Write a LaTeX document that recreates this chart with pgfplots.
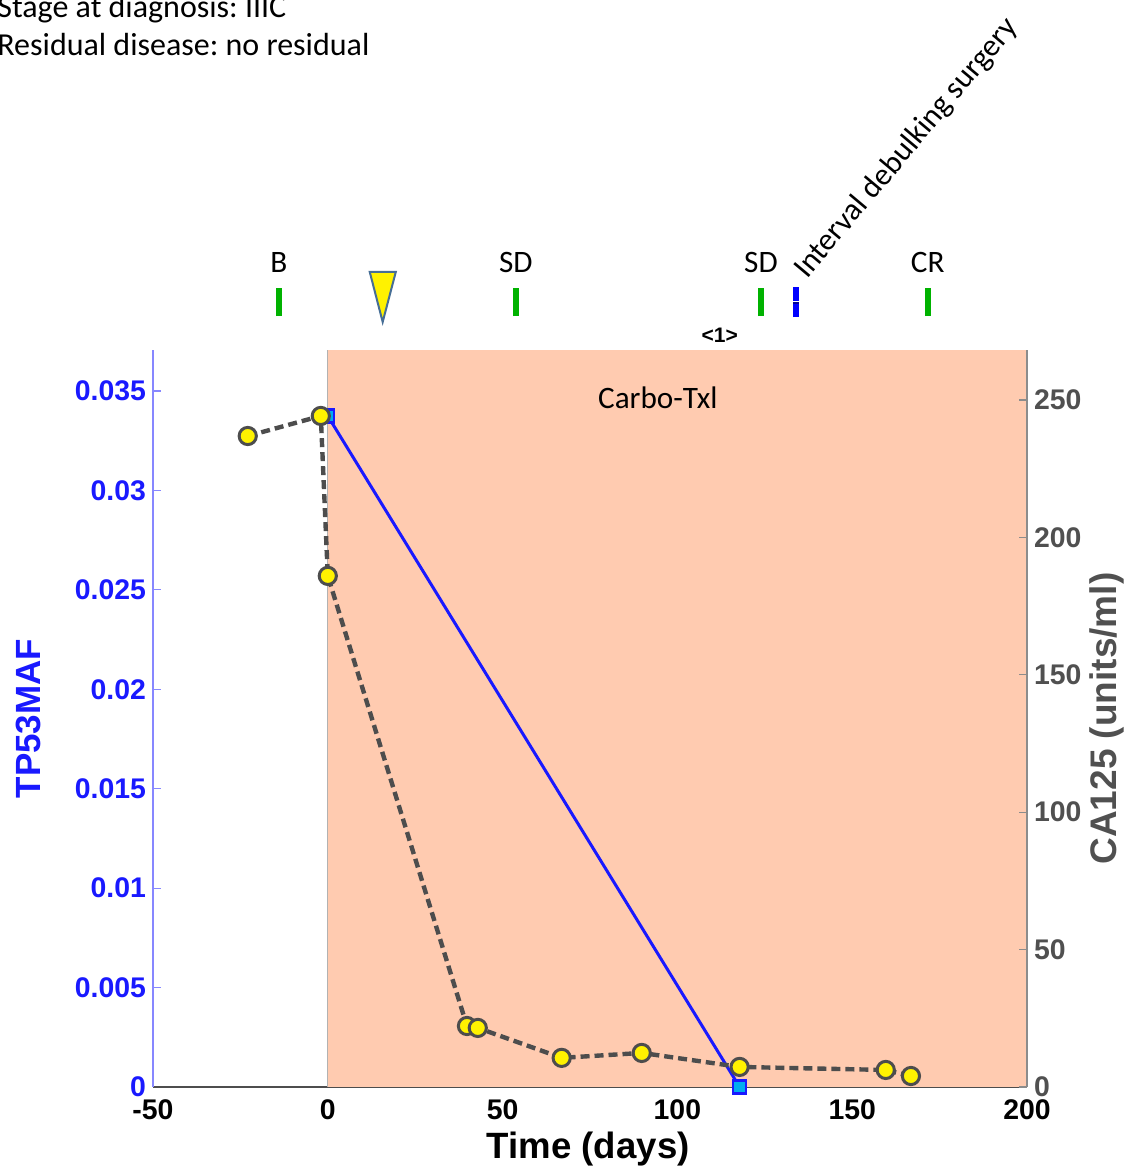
\documentclass[border=0pt]{standalone}
\usepackage{pgfplots}
\pgfplotsset{compat=1.18}
\usepackage{fontspec}
\setmainfont{Liberation Sans}
\newfontfamily\calib{Carlito}
\definecolor{peach}{RGB}{255,203,176}
\definecolor{tpblue}{RGB}{25,25,255}
\definecolor{axblue}{RGB}{135,135,255}
\definecolor{cagray}{RGB}{77,77,77}
\definecolor{rgray}{RGB}{80,80,80}
\definecolor{barGreen}{RGB}{0,178,0}
\definecolor{triEdge}{RGB}{70,110,150}
\frenchspacing
\begin{document}
\begin{tikzpicture}
\useasboundingbox (-76.5pt,-41pt) rectangle (491pt,543.5pt);
% header text
\node[anchor=base west, inner sep=0, font=\calib\fontsize{16}{16}\selectfont] at (-78pt,534.5pt) {Stage at diagnosis: IIIC};
\node[anchor=base west, inner sep=0, font=\calib\fontsize{16}{16}\selectfont] at (-78pt,515.5pt) {Residual disease: no residual};
% left axis: TP53MAF
\begin{axis}[at={(0pt,0pt)}, anchor=south west, width=437pt, height=368.5pt, scale only axis,
  xmin=-50, xmax=200, ymin=0, ymax=0.03706,
  axis x line*=bottom, axis y line*=left,
  x axis line style={draw=cagray, line width=0.6pt},
  y axis line style={draw=axblue, line width=0.8pt},
  xtick={-50,0,50,100,150,200},
  xticklabels={-50,0,50,100,150,200},
  ytick={0,0.005,0.01,0.015,0.02,0.025,0.03,0.035},
  yticklabels={0,0.005,0.01,0.015,0.02,0.025,0.03,0.035},
  scaled y ticks=false,
  tick align=inside, major tick length=4pt,
  x tick style={draw=none},
  y tick style={draw=axblue, line width=0.6pt},
  xticklabel style={font=\bfseries\fontsize{14.2}{14.2}\selectfont, text=black, yshift=-3pt},
  yticklabel style={font=\bfseries\fontsize{14.2}{14.2}\selectfont, text=tpblue},
  /pgf/number format/assume math mode=true,
  xlabel={Time (days)},
  xlabel style={font=\bfseries\fontsize{18.3}{18.3}\selectfont, at={(axis description cs:0.498,-0.084)}, anchor=center},
  ylabel={TP53MAF},
  ylabel style={font=\bfseries\fontsize{17.5}{17.5}\selectfont, text=tpblue, at={(axis description cs:-0.143,0.5)}, anchor=center, rotate=0},
  clip=false]
\addplot[fill=peach, draw=none] coordinates {(0,0.03706) (200,0.03706)} \closedcycle;
\addplot[draw=black!30, line width=0.5pt] coordinates {(0,0) (0,0.03706)};
\addplot[draw=black!30, line width=0.5pt] coordinates {(200,0) (200,0.03706)};
\addplot[tpblue, line width=1.5pt, mark=square*, mark size=3.2pt,
  mark options={fill=cyan, draw=tpblue, line width=1.2pt}]
  coordinates {(0,0.03374) (117.8,0)};
\end{axis}
% right axis: CA125
\begin{axis}[at={(0pt,0pt)}, anchor=south west, width=437pt, height=368.5pt, scale only axis,
  xmin=-50, xmax=200, ymin=0, ymax=268.2,
  axis x line=none, axis y line*=right,
  y axis line style={draw=black!45, line width=0.6pt},
  ytick={0,50,100,150,200,250},
  tick align=inside, major tick length=4pt,
  y tick style={draw=black!45, line width=0.6pt},
  yticklabel style={font=\bfseries\fontsize{14.2}{14.2}\selectfont, text=rgray},
  /pgf/number format/assume math mode=true,
  ylabel={CA125 (units/ml)},
  ylabel style={font=\bfseries\fontsize{18.5}{18.5}\selectfont, text=rgray, at={(axis description cs:1.091,0.5)}, anchor=center},
  clip=false]
\addplot[cagray, line width=2.2pt, dash pattern=on 4.5pt off 2.5pt,
  mark=*, mark size=4.3pt, mark options={solid, fill=yellow, draw=cagray, line width=1.5pt}]
  coordinates {(-22.9,236.9) (-2,244.2) (0,186.0) (39.8,22.2) (42.9,21.5)
               (66.9,10.6) (89.8,12.4) (117.8,7.3) (159.6,6.2) (166.8,4.0)};
% event bars
\addplot[barGreen, line width=3pt] coordinates {(-14,280.5) (-14,290.8)};
\addplot[barGreen, line width=3pt] coordinates {(53.8,280.5) (53.8,290.8)};
\addplot[barGreen, line width=3pt] coordinates {(123.9,280.5) (123.9,290.8)};
\addplot[barGreen, line width=3pt] coordinates {(171.6,280.5) (171.6,290.8)};
\addplot[blue, line width=3pt] coordinates {(133.9,286.1) (133.9,291.1)};
\addplot[blue!60!black, line width=3pt] coordinates {(133.9,284.9) (133.9,285.5)};
\addplot[blue, line width=3pt] coordinates {(133.9,280.2) (133.9,284.9)};
\addplot[fill=yellow, draw=triEdge, line width=1pt] coordinates {(12.0,296.6) (19.45,296.6) (15.7,278.4)} -- cycle;
% annotation labels
\node[font=\calib\fontsize{15.6}{15.6}\selectfont] at (axis cs:-14,300.2) {B};
\node[font=\calib\fontsize{15.6}{15.6}\selectfont] at (axis cs:53.8,300.2) {SD};
\node[font=\calib\fontsize{15.6}{15.6}\selectfont] at (axis cs:123.9,300.2) {SD};
\node[font=\calib\fontsize{15.6}{15.6}\selectfont] at (axis cs:171.6,300.2) {CR};
\node[font=\calib\fontsize{15.6}{15.6}\selectfont, anchor=base west, rotate=50, inner sep=0] at (axis cs:137.0,293.6) {Interval debulking surgery};
\node[font=\bfseries\fontsize{10.5}{10.5}\selectfont] at (axis cs:112.1,273.7) {<1>};
\node[font=\calib\fontsize{15.6}{15.6}\selectfont] at (axis cs:94.4,250.7) {Carbo-Txl};
\end{axis}
\end{tikzpicture}
\end{document}
